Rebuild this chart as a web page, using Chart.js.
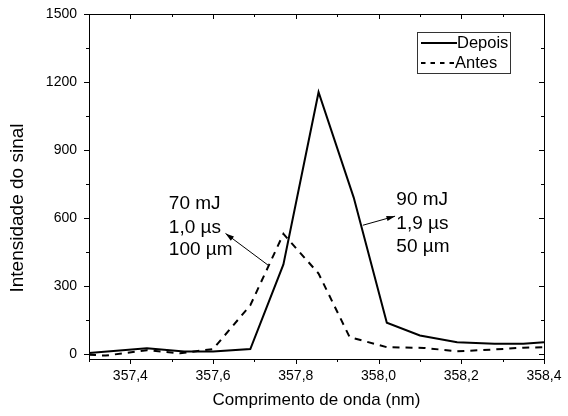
<!DOCTYPE html>
<html>
<head>
<meta charset="utf-8">
<script src="https://cdn.jsdelivr.net/npm/chart.js@4.4.0/dist/chart.umd.min.js"></script>
<style>
html, body { margin: 0; padding: 0; background: #fff; }
#wrap { width: 568px; height: 416px; }
</style>
</head>
<body>
<div id="wrap"><canvas id="espectro"></canvas></div>
<script>
// comprimento de onda (nm) e intensidade
var ondaDepois = [357.3, 357.44, 357.53, 357.6, 357.69, 357.77, 357.855, 357.94, 358.02, 358.1, 358.19, 358.28, 358.35, 358.4];
var depois = [4, 25, 11, 11, 22, 395, 1155, 690, 138, 82, 52, 45, 45, 52];
var ondaAntes = [357.3, 357.34, 357.44, 357.52, 357.6, 357.69, 357.77, 357.855, 357.93, 358.02, 358.11, 358.19, 358.28, 358.35, 358.4];
var antes = [-3, -7, 17, 3, 22, 215, 530, 355, 75, 30, 27, 12, 20, 28, 30];

var nomes = ['Depois', 'Antes'];
var notaAntes = ['70 mJ', '1,0 µs', '100 µm'];
var notaDepois = ['90 mJ', '1,9 µs', '50 µm'];
var tituloY = 'Intensidade do sinal';

var fonte = '"Liberation Sans", Arial, sans-serif';

function pontos(xs, ys) {
    return xs.map(function (x, i) { return { x: x, y: ys[i] }; });
}

function seta(ctx, x1, y1, x2, y2) {
    var a = Math.atan2(y2 - y1, x2 - x1);
    ctx.beginPath();
    ctx.moveTo(x1, y1);
    ctx.lineTo(x2, y2);
    ctx.stroke();
    ctx.beginPath();
    ctx.moveTo(x2, y2);
    ctx.lineTo(x2 - 9 * Math.cos(a - 0.3), y2 - 9 * Math.sin(a - 0.3));
    ctx.lineTo(x2 - 9 * Math.cos(a + 0.3), y2 - 9 * Math.sin(a + 0.3));
    ctx.closePath();
    ctx.fill();
}

// moldura, marcas de escala, notas e legenda
var extras = {
    id: 'extras',
    afterDraw: function (chart) {
        var ctx = chart.ctx;
        var a = chart.chartArea;
        var sx = chart.scales.x, sy = chart.scales.y;
        ctx.save();
        ctx.strokeStyle = '#000';
        ctx.fillStyle = '#000';
        ctx.lineWidth = 1;
        ctx.setLineDash([]);
        ctx.strokeRect(a.left + 0.5, a.top + 0.5, a.right - a.left, a.bottom - a.top);

        ctx.beginPath();
        for (var k = 3573; k <= 3584; k++) {
            var px = Math.round(sx.getPixelForValue(k / 10)) + 0.5;
            var len = (k % 2 === 0) ? 5 : 3;
            ctx.moveTo(px, a.bottom); ctx.lineTo(px, a.bottom + len);
            ctx.moveTo(px, a.top); ctx.lineTo(px, a.top + len);
        }
        for (var v = 0; v <= 1500; v += 150) {
            var py = Math.round(sy.getPixelForValue(v)) + 0.5;
            var l2 = (v % 300 === 0) ? 5 : 3;
            ctx.moveTo(a.left, py); ctx.lineTo(a.left - l2, py);
            ctx.moveTo(a.right, py); ctx.lineTo(a.right - l2, py);
        }
        ctx.stroke();

        // título do eixo y
        ctx.save();
        ctx.translate(18, 208);
        ctx.rotate(-Math.PI / 2);
        ctx.font = '19px ' + fonte;
        ctx.textAlign = 'center';
        ctx.textBaseline = 'middle';
        ctx.fillText(tituloY, 0, 0);
        ctx.restore();

        // notas
        ctx.font = '19px ' + fonte;
        ctx.textBaseline = 'middle';
        ctx.textAlign = 'left';
        var yl = [665, 558, 458];
        notaAntes.forEach(function (t, i) {
            ctx.fillText(t, sx.getPixelForValue(357.493), sy.getPixelForValue(yl[i]));
        });
        var yr = [680, 575, 472];
        notaDepois.forEach(function (t, i) {
            ctx.fillText(t, sx.getPixelForValue(358.043), sy.getPixelForValue(yr[i]));
        });
        seta(ctx, sx.getPixelForValue(357.733), sy.getPixelForValue(392),
                  sx.getPixelForValue(357.63), sy.getPixelForValue(532));
        seta(ctx, sx.getPixelForValue(357.962), sy.getPixelForValue(568),
                  sx.getPixelForValue(358.04), sy.getPixelForValue(608));

        // legenda
        ctx.strokeStyle = '#333';
        ctx.strokeRect(417.5, 32.5, 93, 41);
        ctx.font = '16.5px ' + fonte;
        ctx.strokeStyle = '#000';
        ctx.lineWidth = 2;
        ctx.beginPath();
        ctx.moveTo(421, 43); ctx.lineTo(457, 43);
        ctx.stroke();
        ctx.fillText(nomes[0], 457, 43);
        ctx.setLineDash([4.5, 5]);
        ctx.beginPath();
        ctx.moveTo(421, 63); ctx.lineTo(454, 63);
        ctx.stroke();
        ctx.setLineDash([]);
        ctx.fillText(nomes[1], 455, 63);
        ctx.restore();
    }
};

var ctx = document.getElementById('espectro').getContext('2d');
var chart = new Chart(ctx, {
    type: 'line',
    data: {
        datasets: [{
            label: nomes[0],
            data: pontos(ondaDepois, depois),
            borderColor: '#000',
            borderWidth: 2,
            pointRadius: 0,
            tension: 0
        }, {
            label: nomes[1],
            data: pontos(ondaAntes, antes),
            borderColor: '#000',
            borderWidth: 2,
            borderDash: [7, 6],
            pointRadius: 0,
            tension: 0
        }]
    },
    options: {
        responsive: true,
        maintainAspectRatio: false,
        animation: false,
        layout: { padding: { top: 14, right: 24, left: 0, bottom: 0 } },
        plugins: {
            legend: { display: false },
            tooltip: { enabled: false }
        },
        scales: {
            x: {
                type: 'linear',
                min: 357.3,
                max: 358.4,
                afterBuildTicks: function (s) {
                    var t = [];
                    for (var k = 3573; k <= 3584; k++) t.push({ value: k / 10 });
                    s.ticks = t;
                },
                afterFit: function (s) {
                    s.height = 57;
                    s.paddingLeft = 0;
                    s.paddingRight = 0;
                },
                grid: { display: false, drawTicks: false },
                border: { display: false },
                ticks: {
                    autoSkip: false,
                    maxRotation: 0,
                    padding: 9,
                    color: '#000',
                    font: { family: fonte, size: 14 },
                    callback: function (v) {
                        var k = Math.round(v * 10);
                        return (k % 2 === 0) ? (k / 10).toFixed(1).replace('.', ',') : '';
                    }
                },
                title: {
                    display: true,
                    text: 'Comprimento de onda (nm)',
                    color: '#000',
                    font: { family: fonte, size: 17 },
                    padding: { top: 0, bottom: 5 }
                }
            },
            y: {
                min: -22,
                max: 1500,
                afterBuildTicks: function (s) {
                    var t = [];
                    for (var v = 0; v <= 1500; v += 150) t.push({ value: v });
                    s.ticks = t;
                },
                afterFit: function (s) {
                    s.width = 89;
                    s.paddingTop = 0;
                    s.paddingBottom = 0;
                },
                grid: { display: false, drawTicks: false },
                border: { display: false },
                ticks: {
                    autoSkip: false,
                    padding: 12,
                    color: '#000',
                    font: { family: fonte, size: 14 },
                    callback: function (v) {
                        return (v % 300 === 0) ? String(v) : '';
                    }
                },
                title: { display: false }
            }
        }
    },
    plugins: [extras]
});
</script>
</body>
</html>
